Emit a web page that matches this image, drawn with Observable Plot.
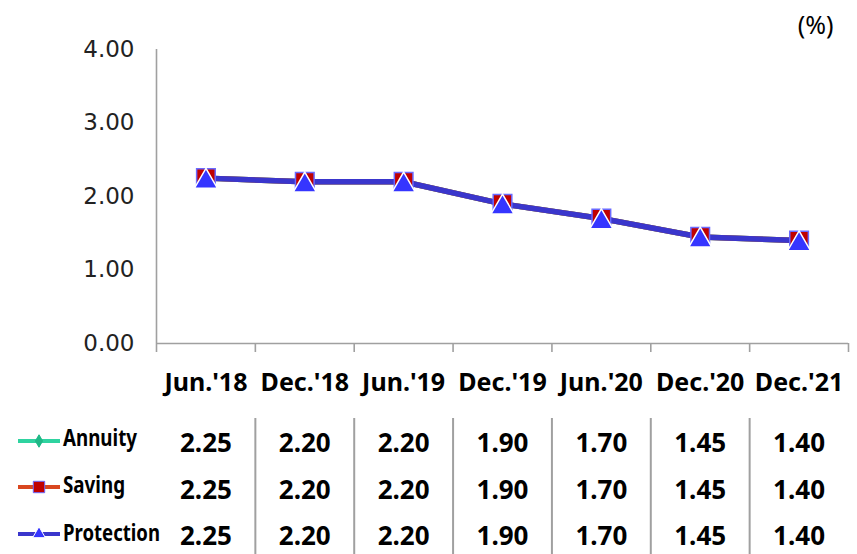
<!DOCTYPE html>
<html><head><meta charset="utf-8">
<script src="https://cdn.jsdelivr.net/npm/d3@7"></script>
<script src="https://cdn.jsdelivr.net/npm/@observablehq/plot@0.6"></script>
<style>body{margin:0;background:#fff} #chart{width:857px;height:554px}</style>
</head><body><div id="chart"></div>
<script>
const categories = ["Jun.'18", "Dec.'18", "Jun.'19", "Dec.'19", "Jun.'20", "Dec.'20", "Dec.'21"];
const annuity = [2.25, 2.20, 2.20, 1.90, 1.70, 1.45, 1.40];
const saving = [2.25, 2.20, 2.20, 1.90, 1.70, 1.45, 1.40];
const protection = [2.25, 2.20, 2.20, 1.90, 1.70, 1.45, 1.40];
const seriesNames = ["Annuity", "Saving", "Protection"];
const yTicks = [0, 1, 2, 3, 4];
const unitLabel = "(%)";

const seriesValues = [annuity, saving, protection];
const styles = [
  {line: "#2fd3a0", symbol: "diamond", fill: "#1fb886", stroke: "#1fb886", r: 5, dy: 0, legendSym: d3.symbolDiamond, legendSize: 45},
  {line: "#d9471f", symbol: "square", fill: "#c00000", stroke: "#6a6aff", r: 10.5, dy: 0, legendSym: d3.symbolSquare, legendSize: 130},
  {line: "#3a36cc", symbol: "triangle", fill: "#3535ff", stroke: "#ffffff", r: 8.5, dy: 3.5, legendSym: d3.symbolTriangle, legendSize: 70}
];
const rowDy = [100, 147, 193];

const table = seriesNames.map((name, s) =>
  categories.map((c, i) => ({series: name, cat: c, pos: i + 0.5, value: seriesValues[s][i]}))
);

const marks = [
  Plot.ruleY([0], {stroke: "#a0a0a0", strokeWidth: 1.6}),
  Plot.ruleX([0], {stroke: "#a0a0a0", strokeWidth: 1.6}),
  Plot.axisX(d3.range(0, 8), {tickSize: 9, tickFormat: () => "", stroke: "#a0a0a0", strokeWidth: 1.6, label: null}),
  Plot.axisX(categories.map((c, i) => i + 0.5), {
    tickSize: 0, tickPadding: 30, tickFormat: p => categories[Math.floor(p)],
    fontSize: 25, fontWeight: "bold", fill: "#000", label: null
  }),
  Plot.axisY(yTicks, {tickSize: 0, tickPadding: 22, tickFormat: d => d.toFixed(2), fontSize: 23, fontFamily: "DejaVu Sans", fill: "#222", label: null}),
  Plot.axisX(d3.range(1, 7), {tickSize: 136, dy: 75, tickFormat: () => "", stroke: "#a0a0a0", strokeWidth: 2, label: null}),
  Plot.text([unitLabel], {frameAnchor: "top-right", textAnchor: "end", dx: -15, dy: -33, fontSize: 25, fill: "#000"})
];

table.forEach((rows, s) => {
  marks.push(Plot.line(rows, {x: "pos", y: "value", stroke: styles[s].line, strokeWidth: 5.5}));
});
table.forEach((rows, s) => {
  marks.push(Plot.dot(rows, {x: "pos", y: "value", symbol: styles[s].symbol, r: styles[s].r, dy: styles[s].dy, fill: styles[s].fill, stroke: styles[s].stroke, strokeWidth: 1.5}));
});
table.forEach((rows, s) => {
  marks.push(Plot.text(rows, {x: "pos", text: d => d.value.toFixed(2), frameAnchor: "bottom", lineAnchor: "middle", dy: rowDy[s], fontSize: 26, fontWeight: "bold", fill: "#000"}));
});

const chart = Plot.plot({
  width: 857,
  height: 554,
  marginTop: 49,
  marginBottom: 211,
  marginLeft: 156,
  marginRight: 9,
  style: {fontFamily: "'Noto Sans', sans-serif", background: "#fff", overflow: "visible"},
  x: {type: "linear", domain: [0, 7]},
  y: {domain: [0, 4]},
  marks
});

// Legend, to the left of the data table
const svg = d3.select(chart);
const legendLineY = [441, 487, 534];
const legendBase = [446, 493, 541];
const legendLen = [74, 62, 97];
const lg = svg.append("g").attr("class", "legend").attr("text-anchor", "start");
seriesNames.forEach((name, s) => {
  const g = lg.append("g");
  g.append("line").attr("x1", 18).attr("x2", 60).attr("y1", legendLineY[s]).attr("y2", legendLineY[s])
    .attr("stroke", styles[s].line).attr("stroke-width", 4);
  g.append("path").attr("d", d3.symbol(styles[s].legendSym, styles[s].legendSize)())
    .attr("transform", `translate(39,${legendLineY[s]})`)
    .attr("fill", styles[s].fill).attr("stroke", s === 2 ? "#ffffff" : styles[s].stroke).attr("stroke-width", 1);
  g.append("text").attr("x", 63).attr("y", legendBase[s]).text(name)
    .attr("text-anchor", "start")
    .attr("font-size", 23).attr("font-weight", "bold").attr("fill", "#000")
    .attr("textLength", legendLen[s]).attr("lengthAdjust", "spacingAndGlyphs");
});

document.getElementById("chart").appendChild(chart);
</script>
</body></html>
